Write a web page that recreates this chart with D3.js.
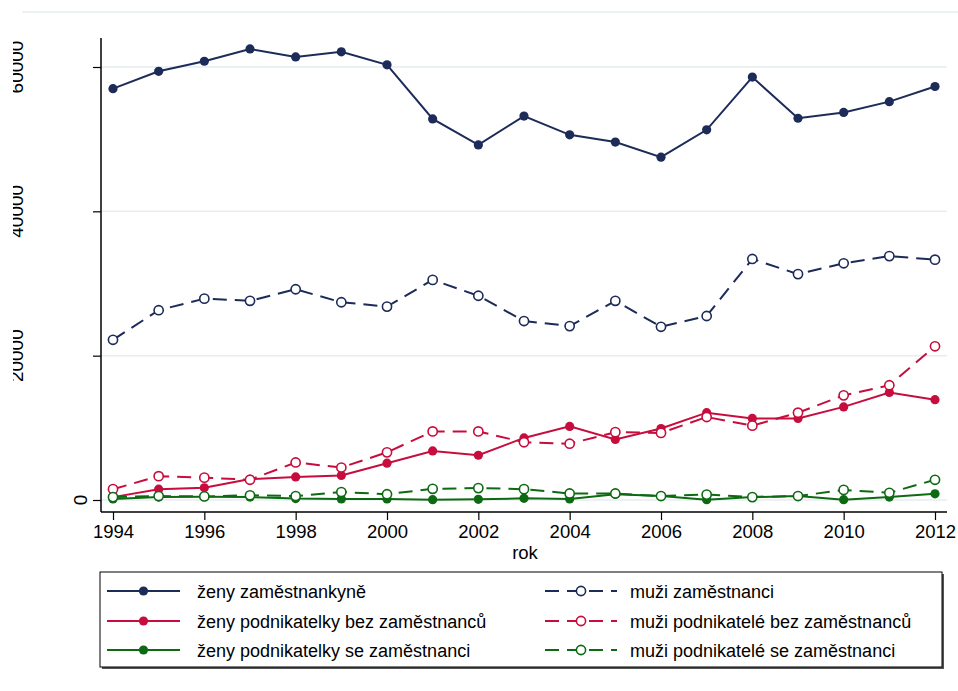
<!DOCTYPE html>
<html>
<head>
<meta charset="utf-8">
<script src="https://d3js.org/d3.v7.min.js"></script>
<style>
  body { margin: 0; background: #fff; }
  text { font-family: "Liberation Sans", Arial, sans-serif; fill: #000; }
  .grid line { stroke: #e6eef0; stroke-width: 1.5px; }
  .line { fill: none; stroke-width: 2px; }
</style>
</head>
<body>
<script>
// years and series
var years = d3.range(1994, 2013);
var zenyZam   = [57000, 59400, 60800, 62500, 61400, 62100, 60300, 52800, 49200, 53200, 50600, 49600, 47500, 51300, 58600, 52900, 53700, 55200, 57300];
var muziZam   = [22200, 26300, 27900, 27600, 29200, 27400, 26800, 30500, 28300, 24800, 24100, 27600, 24000, 25500, 33400, 31300, 32800, 33800, 33300];
var zenyBez   = [400, 1500, 1700, 2900, 3200, 3400, 5100, 6800, 6200, 8600, 10200, 8400, 9900, 12100, 11300, 11300, 12900, 14900, 13900];
var muziBez   = [1500, 3300, 3100, 2800, 5200, 4500, 6600, 9500, 9500, 8000, 7800, 9400, 9300, 11500, 10300, 12100, 14500, 15900, 21300];
var zenySe    = [150, 400, 450, 400, 200, 150, 150, 50, 100, 230, 150, 800, 550, 50, 400, 550, 50, 400, 850];
var muziSe    = [400, 550, 500, 650, 550, 1100, 800, 1550, 1650, 1500, 900, 900, 550, 750, 400, 550, 1400, 1000, 2800];
var yTicks = [0, 20000, 40000, 60000];
var xTicks = d3.range(1994, 2013, 2);

var series = [
  {name: "ženy zaměstnankyně", values: zenyZam, color: "#1c2b58", dashed: false},
  {name: "muži zaměstnanci", values: muziZam, color: "#1c2b58", dashed: true},
  {name: "ženy podnikatelky bez zaměstnanců", values: zenyBez, color: "#c60d3d", dashed: false},
  {name: "muži podnikatelé bez zaměstnanců", values: muziBez, color: "#c60d3d", dashed: true},
  {name: "ženy podnikatelky se zaměstnanci", values: zenySe, color: "#0d6a12", dashed: false},
  {name: "muži podnikatelé se zaměstnanci", values: muziSe, color: "#0d6a12", dashed: true}
];

var W = 958, H = 691;
var svg = d3.select("body").append("svg").attr("width", W).attr("height", H);

// scales
var x = d3.scaleLinear().domain([1994, 2012]).range([113, 935]);
var y = d3.scaleLinear().domain([0, 60000]).range([500, 67]);
var plotL = 101, plotR = 947, plotT = 38, plotB = 512;

// faint top border line
svg.append("line").attr("x1", 22).attr("x2", W).attr("y1", 12).attr("y2", 12)
  .attr("stroke", "#e6eef0").attr("stroke-width", 1.5);

// gridlines
svg.append("g").attr("class", "grid").selectAll("line").data(yTicks).enter().append("line")
  .attr("x1", plotL).attr("x2", plotR)
  .attr("y1", function(d) { return y(d); }).attr("y2", function(d) { return y(d); });

// axes
svg.append("line").attr("x1", plotL).attr("x2", plotL).attr("y1", plotT).attr("y2", plotB).attr("stroke", "#000").attr("stroke-width", 1.5);
svg.append("line").attr("x1", plotL).attr("x2", plotR).attr("y1", plotB).attr("y2", plotB).attr("stroke", "#000").attr("stroke-width", 1.5);

var xAxis = svg.append("g").attr("transform", "translate(0," + plotB + ")")
  .call(d3.axisBottom(x).tickValues(xTicks).tickFormat(d3.format("d")).tickSize(8).tickPadding(5));
xAxis.select(".domain").remove();
xAxis.selectAll("line").attr("stroke-width", 1.2);
xAxis.selectAll("text").style("font-size", "18.5px").attr("font-family", null);

var yAxis = svg.append("g").attr("transform", "translate(" + plotL + ",0)")
  .call(d3.axisLeft(y).tickValues(yTicks).tickFormat(""). tickSize(8));
yAxis.select(".domain").remove();
yAxis.selectAll("line").attr("stroke-width", 1.2);

// y tick labels, rotated, clipped at the left like the source
svg.append("clipPath").attr("id", "yclip").append("rect").attr("x", 13).attr("y", 0).attr("width", 200).attr("height", H);
svg.append("g").attr("clip-path", "url(#yclip)").selectAll("text").data(yTicks).enter().append("text")
  .attr("transform", function(d) {
    var len = String(d).length;
    return "translate(" + (103 - 16 * len) + "," + y(d) + ") rotate(-90)";
  })
  .attr("text-anchor", "middle")
  .style("font-size", "19px")
  .text(function(d) { return d; });

// x title
svg.append("text").attr("x", 525).attr("y", 559).attr("text-anchor", "middle").style("font-size", "18.5px").text("rok");

// lines and markers
var line = d3.line().x(function(d, i) { return x(years[i]); }).y(function(d) { return y(d); });
series.forEach(function(s) {
  svg.append("path").datum(s.values).attr("class", "line")
    .attr("stroke", s.color).attr("stroke-dasharray", s.dashed ? "14,8" : null)
    .attr("d", line);
  svg.append("g").selectAll("circle").data(s.values).enter().append("circle")
    .attr("cx", function(d, i) { return x(years[i]); })
    .attr("cy", function(d) { return y(d); })
    .attr("r", 4.6)
    .attr("fill", s.dashed ? "#fff" : s.color)
    .attr("stroke", s.color).attr("stroke-width", s.dashed ? 1.6 : 0);
});

// legend
var lg = svg.append("g");
lg.append("rect").attr("x", 102).attr("y", 574).attr("width", 842).attr("height", 95).attr("fill", "#555");
lg.append("rect").attr("x", 100).attr("y", 572).attr("width", 842).attr("height", 95).attr("fill", "#fff").attr("stroke", "#000").attr("stroke-width", 1);
var rowY = [591, 621, 650];
series.forEach(function(s, i) {
  var col = s.dashed ? 1 : 0, row = Math.floor(i / 2);
  var x0 = col ? 545 : 107, x1 = col ? 617 : 180, xm = (x0 + x1) / 2, ty = rowY[row];
  lg.append("line").attr("x1", x0).attr("x2", x1).attr("y1", ty).attr("y2", ty)
    .attr("stroke", s.color).attr("stroke-width", 2).attr("stroke-dasharray", s.dashed ? "14,8" : null);
  lg.append("circle").attr("cx", xm).attr("cy", ty).attr("r", 4.6)
    .attr("fill", s.dashed ? "#fff" : s.color).attr("stroke", s.color).attr("stroke-width", s.dashed ? 1.6 : 0);
  lg.append("text").attr("x", col ? 630 : 197).attr("y", ty + 6.5).style("font-size", "18px").text(s.name);
});
</script>
</body>
</html>
